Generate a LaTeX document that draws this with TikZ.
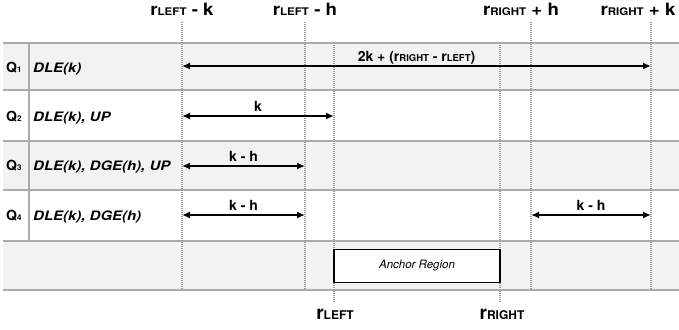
\documentclass[tikz,border=0pt]{standalone}
\usepackage{fontspec}
\setmainfont{TeX Gyre Heros}
\usetikzlibrary{arrows.meta}
\definecolor{rowgray}{HTML}{F2F2F2}
\definecolor{rulegray}{HTML}{ABABAB}
\definecolor{dotgray}{HTML}{9A9A9A}
% smaller text kept on the same baseline (used for subscripts)
\newcommand\lowtxt[2]{{\fontsize{#1}{#1}\selectfont #2}}
\begin{document}
\begin{tikzpicture}[x=1pt,y=-1pt,
  rowrule/.style={draw=rulegray,line width=1.3pt},
  guide/.style={draw=dotgray,line width=1.3pt,dash pattern=on 1pt off 1pt},
  span/.style={line width=1.6pt,{Latex[length=8pt,width=7pt]}-{Latex[length=8pt,width=7pt]}},
  toplabel/.style={font=\fontsize{17}{17}\selectfont\bfseries,anchor=base,inner sep=0pt,xscale=1.1,transform shape},
  botlabel/.style={font=\fontsize{19}{19}\selectfont\bfseries,anchor=base,inner sep=0pt},
  spanlabel/.style={font=\fontsize{14}{14}\selectfont\bfseries,anchor=base,inner sep=0pt},
  qlabel/.style={font=\fontsize{14}{14}\selectfont\bfseries,anchor=base west,inner sep=0pt},
  rowlabel/.style={font=\fontsize{13}{13}\selectfont\bfseries\itshape,anchor=base west,inner sep=0pt,xscale=1.15,transform shape},
  anchorbox/.style={draw,line width=1.5pt,fill=white,minimum width=166pt,minimum height=33pt,inner sep=0pt,
    font=\fontsize{11.5}{11.5}\selectfont\itshape}
]
\useasboundingbox (0,0) rectangle (679,329);

% row bands
\fill[rowgray] (3,43) rectangle (679,90);
\fill[rowgray] (3,141) rectangle (679,190);
\fill[rowgray] (3,241) rectangle (679,290);
\foreach \yy in {43,90,141,190,241,290}
  \draw[rowrule] (3,\yy) -- (679,\yy);
\draw[rowrule] (29,43) -- (29,241);

% guide columns
\coordinate (lk) at (182,0);
\coordinate (lh) at (305,0);
\coordinate (l)  at (334,0);
\coordinate (r)  at (500,0);
\coordinate (rh) at (531,0);
\coordinate (rk) at (651,0);

\foreach \c in {lk,lh,rh,rk}
  \draw[guide] (\c |- 0,22) -- (\c |- 0,290);
\foreach \c in {l,r}
  \draw[guide] (\c |- 0,43) -- (\c |- 0,303);

% column labels
\node[toplabel] (tlk) at (182,16) {r\lowtxt{10.5}{LEFT} - k};
\node[toplabel] (tlh) at (305,16) {r\lowtxt{10.5}{LEFT} - h};
\node[toplabel] (trh) at (521,16) {r\lowtxt{10.5}{RIGHT} + h};
\node[toplabel] (trk) at (638,16) {r\lowtxt{10.5}{RIGHT} + k};
\node[botlabel] (bl) at (335,319) {r\lowtxt{12}{LEFT}};
\node[botlabel] (br) at (502,319) {r\lowtxt{12}{RIGHT}};

% row labels
\node[qlabel] (q1) at (6,72) {Q\lowtxt{8}{1}};
\node[qlabel] (q2) at (6,121) {Q\lowtxt{8}{2}};
\node[qlabel] (q3) at (6,170) {Q\lowtxt{8}{3}};
\node[qlabel] (q4) at (6,220) {Q\lowtxt{8}{4}};
\node[rowlabel] (p1) at (33,72) {DLE(k)};
\node[rowlabel] (p2) at (33,121) {DLE(k), UP};
\node[rowlabel] (p3) at (33,170) {DLE(k), DGE(h), UP};
\node[rowlabel] (p4) at (33,220) {DLE(k), DGE(h)};

% spans
\coordinate (y1) at (0,66);
\coordinate (y2) at (0,116);
\coordinate (y3) at (0,166);
\coordinate (y4) at (0,215);
\draw[span] (lk |- y1) -- (rk |- y1);
\node[spanlabel] (s1) at (416.5,61) {2k + (r\lowtxt{9.5}{RIGHT} - r\lowtxt{9.5}{LEFT})};
\draw[span] (lk |- y2) -- (l |- y2);
\node[spanlabel] (s2) at (258,111) {k};
\draw[span] (lk |- y3) -- (lh |- y3);
\node[spanlabel] (s3) at (243.5,161) {k - h};
\draw[span] (lk |- y4) -- (lh |- y4);
\node[spanlabel] (s4) at (243.5,210) {k - h};
\draw[span] (rh |- y4) -- (rk |- y4);
\node[spanlabel] (s5) at (591,210) {k - h};

% anchor region
\node[anchorbox] (anchor) at (417,266) {Anchor Region};
\end{tikzpicture}
\end{document}
